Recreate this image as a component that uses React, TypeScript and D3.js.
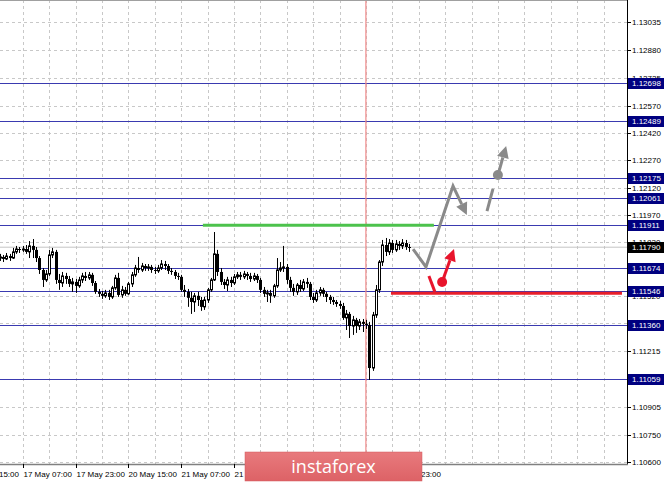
import React from "react";
import * as d3 from "d3";

// ---- Data ----
const opens = [
  1.11730, 1.11736, 1.11725, 1.11741, 1.11730, 1.11764, 1.11780, 1.11775, 1.11780, 1.11764,
  1.11797, 1.11775, 1.11730, 1.11664, 1.11609, 1.11642, 1.11747, 1.11764, 1.11609, 1.11592,
  1.11631, 1.11614, 1.11587, 1.11598, 1.11576, 1.11609, 1.11631, 1.11620, 1.11637, 1.11592,
  1.11543, 1.11532, 1.11521, 1.11537, 1.11515, 1.11565, 1.11620, 1.11526, 1.11554, 1.11532,
  1.11587, 1.11637, 1.11675, 1.11664, 1.11686, 1.11675, 1.11681, 1.11664, 1.11659, 1.11675,
  1.11697, 1.11686, 1.11659, 1.11653, 1.11631, 1.11626, 1.11554, 1.11543, 1.11510, 1.11487,
  1.11521, 1.11498, 1.11460, 1.11498, 1.11554, 1.11609, 1.11753, 1.11653, 1.11598, 1.11581,
  1.11609, 1.11592, 1.11626, 1.11637, 1.11626, 1.11642, 1.11631, 1.11614, 1.11631, 1.11609,
  1.11554, 1.11532, 1.11537, 1.11521, 1.11576, 1.11664, 1.11675, 1.11681, 1.11609, 1.11565,
  1.11543, 1.11581, 1.11559, 1.11598, 1.11587, 1.11515, 1.11498, 1.11537, 1.11554, 1.11532,
  1.11515, 1.11498, 1.11487, 1.11476, 1.11465, 1.11399, 1.11421, 1.11354, 1.11388, 1.11354,
  1.11377, 1.11366, 1.11360, 1.11122, 1.11415, 1.11554, 1.11708, 1.11802, 1.11764, 1.11813,
  1.11775, 1.11808, 1.11797, 1.11813, 1.11791,
];
const highs = [
  1.11753, 1.11747, 1.11758, 1.11753, 1.11786, 1.11797, 1.11791, 1.11797, 1.11802, 1.11824,
  1.11835, 1.11791, 1.11741, 1.11675, 1.11664, 1.11775, 1.11786, 1.11775, 1.11642, 1.11653,
  1.11648, 1.11631, 1.11620, 1.11614, 1.11626, 1.11648, 1.11653, 1.11653, 1.11648, 1.11603,
  1.11559, 1.11548, 1.11554, 1.11554, 1.11576, 1.11637, 1.11648, 1.11576, 1.11570, 1.11598,
  1.11653, 1.11692, 1.11736, 1.11703, 1.11697, 1.11697, 1.11692, 1.11681, 1.11692, 1.11719,
  1.11714, 1.11697, 1.11675, 1.11664, 1.11648, 1.11637, 1.11581, 1.11559, 1.11543, 1.11537,
  1.11543, 1.11515, 1.11515, 1.11565, 1.11620, 1.11874, 1.11775, 1.11675, 1.11614, 1.11626,
  1.11626, 1.11642, 1.11653, 1.11653, 1.11659, 1.11653, 1.11648, 1.11648, 1.11642, 1.11620,
  1.11570, 1.11554, 1.11554, 1.11587, 1.11730, 1.11708, 1.11797, 1.11697, 1.11626, 1.11587,
  1.11592, 1.11609, 1.11614, 1.11620, 1.11598, 1.11537, 1.11554, 1.11570, 1.11565, 1.11543,
  1.11526, 1.11515, 1.11498, 1.11493, 1.11482, 1.11443, 1.11432, 1.11410, 1.11399, 1.11393,
  1.11393, 1.11388, 1.11377, 1.11432, 1.11581, 1.11719, 1.11830, 1.11841, 1.11835, 1.11830,
  1.11830, 1.11824, 1.11835, 1.11830, 1.11808,
];
const lows = [
  1.11714, 1.11708, 1.11719, 1.11714, 1.11725, 1.11753, 1.11758, 1.11764, 1.11753, 1.11730,
  1.11730, 1.11708, 1.11642, 1.11570, 1.11598, 1.11631, 1.11730, 1.11587, 1.11554, 1.11570,
  1.11587, 1.11570, 1.11543, 1.11537, 1.11565, 1.11592, 1.11603, 1.11609, 1.11576, 1.11532,
  1.11515, 1.11504, 1.11510, 1.11498, 1.11504, 1.11554, 1.11515, 1.11510, 1.11521, 1.11526,
  1.11570, 1.11626, 1.11648, 1.11653, 1.11659, 1.11659, 1.11648, 1.11642, 1.11648, 1.11664,
  1.11664, 1.11642, 1.11637, 1.11614, 1.11609, 1.11543, 1.11515, 1.11460, 1.11421, 1.11432,
  1.11465, 1.11438, 1.11443, 1.11482, 1.11543, 1.11603, 1.11631, 1.11581, 1.11559, 1.11548,
  1.11570, 1.11581, 1.11614, 1.11609, 1.11614, 1.11609, 1.11598, 1.11603, 1.11592, 1.11537,
  1.11515, 1.11487, 1.11482, 1.11510, 1.11565, 1.11653, 1.11653, 1.11587, 1.11543, 1.11521,
  1.11526, 1.11543, 1.11548, 1.11565, 1.11498, 1.11482, 1.11487, 1.11521, 1.11515, 1.11487,
  1.11476, 1.11471, 1.11460, 1.11449, 1.11388, 1.11332, 1.11288, 1.11305, 1.11316, 1.11332,
  1.11321, 1.11338, 1.11056, 1.11106, 1.11399, 1.11537, 1.11686, 1.11741, 1.11747, 1.11758,
  1.11764, 1.11775, 1.11780, 1.11775, 1.11764,
];
const closes = [
  1.11736, 1.11725, 1.11741, 1.11730, 1.11764, 1.11780, 1.11775, 1.11780, 1.11764, 1.11797,
  1.11775, 1.11730, 1.11664, 1.11609, 1.11642, 1.11747, 1.11764, 1.11609, 1.11592, 1.11631,
  1.11614, 1.11587, 1.11598, 1.11576, 1.11609, 1.11631, 1.11620, 1.11637, 1.11592, 1.11543,
  1.11532, 1.11521, 1.11537, 1.11515, 1.11565, 1.11620, 1.11526, 1.11554, 1.11532, 1.11587,
  1.11637, 1.11675, 1.11664, 1.11686, 1.11675, 1.11681, 1.11664, 1.11659, 1.11675, 1.11697,
  1.11686, 1.11659, 1.11653, 1.11631, 1.11626, 1.11554, 1.11543, 1.11510, 1.11487, 1.11521,
  1.11498, 1.11460, 1.11498, 1.11554, 1.11609, 1.11753, 1.11653, 1.11598, 1.11581, 1.11609,
  1.11592, 1.11626, 1.11637, 1.11626, 1.11642, 1.11631, 1.11614, 1.11631, 1.11609, 1.11554,
  1.11532, 1.11537, 1.11521, 1.11576, 1.11664, 1.11675, 1.11681, 1.11609, 1.11565, 1.11543,
  1.11581, 1.11559, 1.11598, 1.11587, 1.11515, 1.11498, 1.11537, 1.11554, 1.11532, 1.11515,
  1.11498, 1.11487, 1.11476, 1.11465, 1.11399, 1.11421, 1.11354, 1.11388, 1.11354, 1.11377,
  1.11366, 1.11360, 1.11122, 1.11415, 1.11554, 1.11708, 1.11802, 1.11764, 1.11813, 1.11775,
  1.11808, 1.11797, 1.11813, 1.11791, 1.11790,
];

const timeLabels = ["16 May 15:00", "17 May 07:00", "17 May 23:00", "20 May 15:00", "21 May 07:00", "21 May 23:00", "23 May 23:00"];
const timeLabelBars = [-9, 7, 23, 39, 55, 71, 119];
const gridOnlyTickBars = [87, 103];

const priceTicks = ["1.13035", "1.12880", "1.12725", "1.12570", "1.12420", "1.12270", "1.12120", "1.11970", "1.11820", "1.11520", "1.11215", "1.10905", "1.10750", "1.10600"];
const gridOnlyPrices = [1.11675, 1.11370, 1.11060];

const levels = [1.12698, 1.12489, 1.12175, 1.12061, 1.11911, 1.11674, 1.11546, 1.11360, 1.11059];
const currentPrice = 1.11790;
const markerBar = 111;

// annotation lines: [bar, price]
const greenLine = [[61.6, 1.11911], [131.6, 1.11911]];
const redLine = [[118.6, 1.11535], [188.6, 1.11535]];
const grayPath = [[125.3, 1.11780], [129.2, 1.11681], [137.4, 1.12128], [141.6, 1.11968]];
const grayDash = [[147.7, 1.11990], [149.5, 1.12112]];
const grayDot = [151.0, 1.12189];
const grayArrow = [[151.0, 1.12189], [153.5, 1.12350]];
const redDash = [[130.1, 1.11631], [131.9, 1.11543]];
const redDot = [134.1, 1.11598];
const redArrow = [[134.1, 1.11598], [137.7, 1.11780]];

// ---- Layout ----
const W = 665, H = 482;
const PLOT_R = 627, PLOT_B = 464;
const LOGO = { x: 245, y: 452, w: 177, h: 29 };
const FONT = "'Liberation Sans', Arial, sans-serif";

const x = d3.scaleLinear().domain([0, 190]).range([-0.4, -0.4 + 3.3 * 190]);
const y = d3.scaleLinear().domain([1.104915, 1.13157]).range([482, 0]);

function arrowHead(p0: number[], p1: number[], len: number, half: number) {
  const x0 = x(p0[0]), y0 = y(p0[1]), x1 = x(p1[0]), y1 = y(p1[1]);
  const dx = x1 - x0, dy = y1 - y0;
  const L = Math.hypot(dx, dy);
  const ux = dx / L, uy = dy / L;
  const bx = x1 - ux * len, by = y1 - uy * len;
  const pts = [[x1, y1], [bx - uy * half, by + ux * half], [bx + uy * half, by - ux * half]];
  return { pts: pts.map((p) => p.join(",")).join(" "), base: [bx, by] };
}

export default function App() {
  const line = d3.line<number[]>().x((d) => x(d[0])).y((d) => y(d[1]));
  const gridBars = d3.range(7, 190, 8);
  const gh = arrowHead(grayPath[2], grayPath[3], 12, 6);
  const grayShaft = [...grayPath.slice(0, 3).map((d) => [x(d[0]), y(d[1])]), gh.base];
  const ga = arrowHead(grayArrow[0], grayArrow[1], 12, 6);
  const ra = arrowHead(redArrow[0], redArrow[1], 12, 6);
  const allGridPrices = [...priceTicks.map(Number), ...gridOnlyPrices];
  const ry = (p: number) => Math.round(y(p)) + 0.5;
  return (
    <svg width={W} height={H} style={{ position: "absolute", left: 0, top: 0, display: "block", background: "#fff" }}>
      <defs>
        <clipPath id="plot"><rect x={0} y={0} width={PLOT_R} height={PLOT_B} /></clipPath>
        <clipPath id="leftOfLogo"><rect x={0} y={PLOT_B} width={LOGO.x} height={H - PLOT_B} /></clipPath>
        <clipPath id="rightOfLogo"><rect x={LOGO.x + LOGO.w} y={PLOT_B} width={W - LOGO.x - LOGO.w} height={H - PLOT_B} /></clipPath>
        <linearGradient id="logo" x1="0" y1="0" x2="0" y2="1">
          <stop offset="0" stopColor="#e87a7d" />
          <stop offset="1" stopColor="#dd6266" />
        </linearGradient>
      </defs>
      <rect x={0} y={0} width={W} height={H} fill="#fff" />
      <g clipPath="url(#plot)">
        {allGridPrices.map((p) => (
          <line key={"hg" + p} x1={0} x2={PLOT_R} y1={ry(p)} y2={ry(p)} stroke="#c8c8c8" strokeDasharray="3,3" />
        ))}
        {gridBars.map((b) => (
          <line key={"vg" + b} x1={Math.round(x(b)) + 0.5} x2={Math.round(x(b)) + 0.5} y1={0} y2={PLOT_B} stroke="#c8c8c8" strokeDasharray="3,3" />
        ))}
        <line x1={0} x2={PLOT_R} y1={y(currentPrice)} y2={y(currentPrice)} stroke="#c4c4c4" strokeWidth={1} />
        {levels.map((l) => (
          <line key={"lv" + l} x1={0} x2={PLOT_R} y1={ry(l)} y2={ry(l)} stroke="#3a3ab0" strokeWidth={1} />
        ))}
        <line x1={x(markerBar)} x2={x(markerBar)} y1={0} y2={PLOT_B} stroke="#f08a8a" strokeWidth={1.2} />
        {closes.map((c, i) => {
          const o = opens[i];
          const cx = Math.round(x(i)) + 0.5;
          const top = y(Math.max(o, c)), bot = y(Math.min(o, c));
          const up = c >= o;
          return (
            <g key={"c" + i}>
              <line x1={cx} x2={cx} y1={y(highs[i])} y2={y(lows[i])} stroke="#000" strokeWidth={1} />
              {up ? (
                <rect x={cx - 1} y={top} width={2} height={Math.max(bot - top, 1)} fill="#fff" stroke="#000" strokeWidth={1} />
              ) : (
                <rect x={cx - 1.5} y={top} width={3} height={Math.max(bot - top, 1)} fill="#000" />
              )}
            </g>
          );
        })}
        <path d={line(greenLine) || ""} stroke="#4cc24c" strokeWidth={3} fill="none" />
        <path d={line(redLine) || ""} stroke="#e81e2a" strokeWidth={3} fill="none" />
        <polyline points={grayShaft.map((p) => p.join(",")).join(" ")} fill="none" stroke="#8a8a8a" strokeWidth={3} strokeLinejoin="miter" />
        <polygon points={gh.pts} fill="#8a8a8a" />
        <path d={line(grayDash) || ""} stroke="#8a8a8a" strokeWidth={3} fill="none" />
        <circle cx={x(grayDot[0])} cy={y(grayDot[1])} r={5} fill="#8a8a8a" />
        <line x1={x(grayArrow[0][0])} y1={y(grayArrow[0][1])} x2={ga.base[0]} y2={ga.base[1]} stroke="#8a8a8a" strokeWidth={3} />
        <polygon points={ga.pts} fill="#8a8a8a" />
        <path d={line(redDash) || ""} stroke="#e8142c" strokeWidth={3} fill="none" />
        <circle cx={x(redDot[0])} cy={y(redDot[1])} r={5} fill="#e8142c" />
        <line x1={x(redArrow[0][0])} y1={y(redArrow[0][1])} x2={ra.base[0]} y2={ra.base[1]} stroke="#e8142c" strokeWidth={3} />
        <polygon points={ra.pts} fill="#e8142c" />
      </g>
      {/* axes */}
      <line x1={PLOT_R + 0.5} x2={PLOT_R + 0.5} y1={0} y2={PLOT_B + 1} stroke="#000" strokeWidth={1} />
      <line x1={0} x2={PLOT_R + 1} y1={PLOT_B + 0.5} y2={PLOT_B + 0.5} stroke="#808080" strokeWidth={1.5} />
      <line x1={0} x2={PLOT_R} y1={0.5} y2={0.5} stroke="#a0a0a0" strokeWidth={1} />
      {allGridPrices.map((p) => (
        <line key={"tk" + p} x1={PLOT_R} x2={PLOT_R + 4} y1={ry(p)} y2={ry(p)} stroke="#000" />
      ))}
      {priceTicks.map((t) => (
        <text key={"pt" + t} x={PLOT_R + 5} y={y(+t) + 3} fontSize={8} fontFamily={FONT} fill="#000">{t}</text>
      ))}
      {levels.map((l) => (
        <g key={"lb" + l}>
          <rect x={PLOT_R + 1} y={Math.round(y(l)) - 5} width={W - PLOT_R - 2} height={11} fill="#000080" />
          <text x={PLOT_R + 5} y={y(l) + 3} fontSize={8} fontFamily={FONT} fill="#fff">{l.toFixed(5)}</text>
        </g>
      ))}
      <g>
        <rect x={PLOT_R + 1} y={Math.round(y(currentPrice)) - 5} width={W - PLOT_R - 2} height={11} fill="#000" />
        <text x={PLOT_R + 5} y={y(currentPrice) + 3} fontSize={8} fontFamily={FONT} fill="#fff">{currentPrice.toFixed(5)}</text>
      </g>
      {[...timeLabelBars, ...gridOnlyTickBars].map((b) => {
        const tx = Math.round(x(b)) + 0.5;
        return <line key={"tt" + b} x1={tx} x2={tx} y1={PLOT_B} y2={PLOT_B + 4} stroke="#000" />;
      })}
      {timeLabels.map((t, i) => {
        const tx = Math.round(x(timeLabelBars[i])) + 0.5;
        const clip = tx < LOGO.x && tx + 48 > LOGO.x ? "url(#leftOfLogo)" : tx < LOGO.x + LOGO.w && tx > LOGO.x ? "url(#rightOfLogo)" : undefined;
        return (
          <text key={"tl" + t} x={tx} y={477} fontSize={8} fontFamily={FONT} fill="#000" clipPath={clip}>{t}</text>
        );
      })}
      {/* logo */}
      <g>
        <rect x={LOGO.x} y={LOGO.y} width={LOGO.w} height={LOGO.h} fill="url(#logo)" stroke="#d45a5e" strokeWidth={0.5} />
        <text x={LOGO.x + LOGO.w / 2} y={473} textAnchor="middle" fontSize={18} fontFamily="'Open Sans', 'Noto Sans', sans-serif" fill="#fff">instaforex</text>
      </g>
    </svg>
  );
}
